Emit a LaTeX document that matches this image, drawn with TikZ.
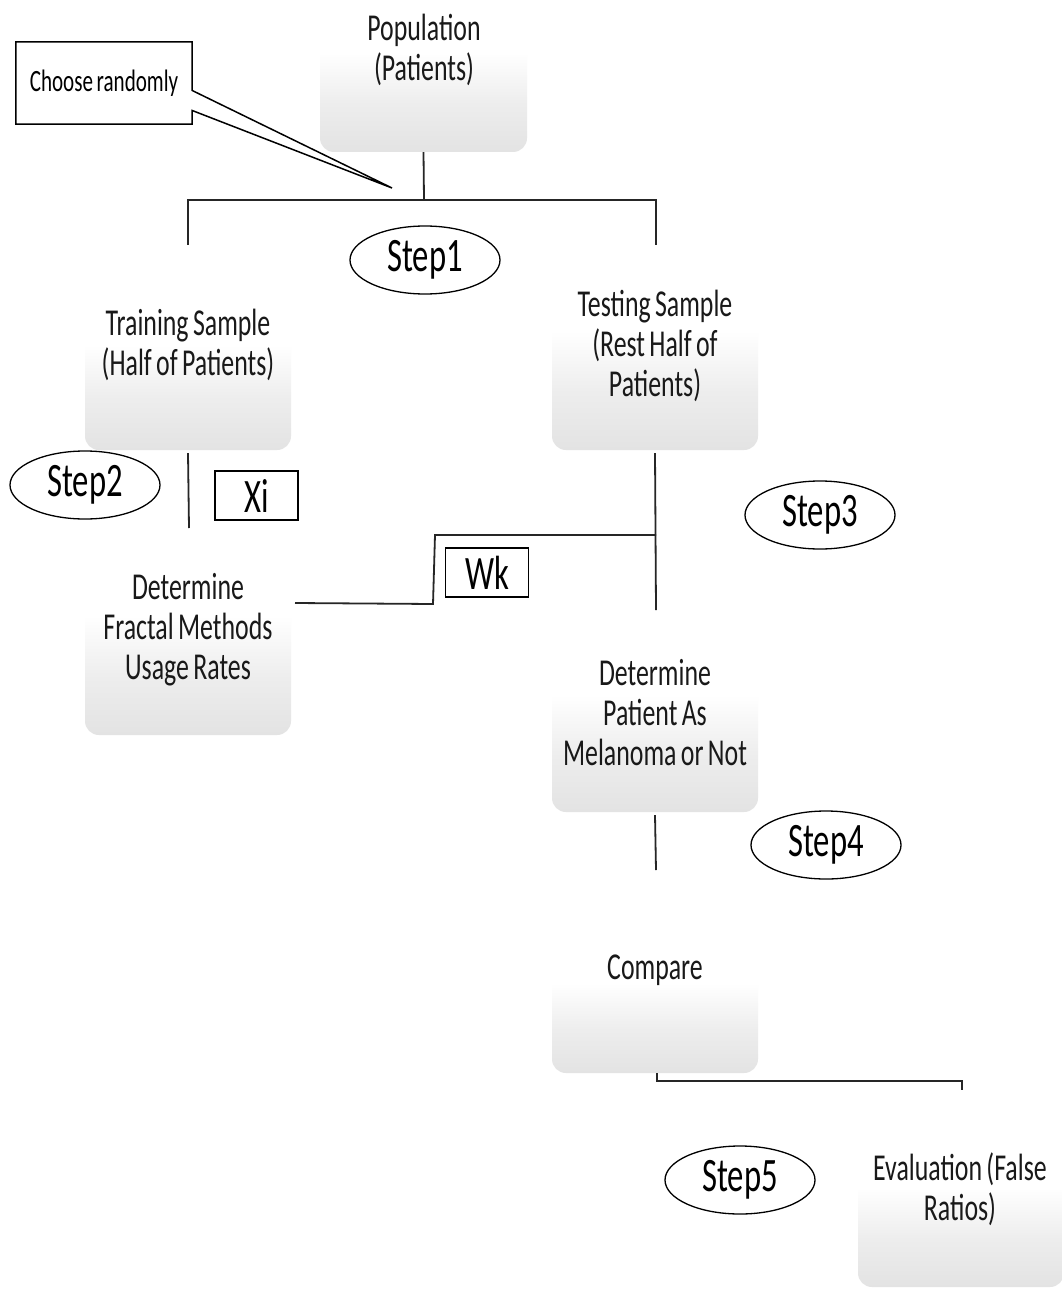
\documentclass[tikz,border=0pt]{standalone}
\usepackage{fontspec}
\setmainfont{Carlito}[FakeStretch=0.68, WordSpace=0.75]
\usetikzlibrary{shapes.geometric}
\pgfdeclareverticalshading{boxsh}{100bp}{color(0bp)=(black!11); color(25bp)=(black!11); color(42bp)=(black!7); color(60bp)=(white); color(100bp)=(white)}
\tikzset{
  gbox/.style={rectangle, rounded corners=14pt, draw=none, shading=boxsh, inner sep=0pt},
  btxt/.style={align=center, inner sep=0pt, text=black!90, font=\fontsize{38}{40}\selectfont},
  stepell/.style={ellipse, draw, line width=1.3pt, minimum width=150pt, minimum height=68pt, inner sep=0pt, font=\fontsize{48}{50}\selectfont},
  varbox/.style={rectangle, draw, line width=1.8pt, minimum width=83pt, minimum height=49pt, inner sep=0pt, font=\fontsize{48}{50}\selectfont},
  conn/.style={line width=1.8pt, draw=black!85}
}
\begin{document}
\begin{tikzpicture}[x=1pt,y=-1pt]
\useasboundingbox[fill=white] (0,0) rectangle (1061,1289);

% boxes
\node[gbox, minimum width=207pt, minimum height=142pt] (pop) at (423.5,81) {};
\node[gbox, minimum width=206pt, minimum height=150pt] (train) at (188,375) {};
\node[gbox, minimum width=206pt, minimum height=170pt] (test) at (655,365) {};
\node[gbox, minimum width=206pt, minimum height=170pt] (frac) at (188,650) {};
\node[gbox, minimum width=206pt, minimum height=167pt] (pat) at (655,728.5) {};
\node[gbox, minimum width=206pt, minimum height=128pt] (cmp) at (655,1009) {};
\node[gbox, minimum width=206pt, minimum height=142pt] (eval) at (961,1216) {};

% box texts
\node[btxt] (poptxt) at (424,50) {Population\\(Patients)};
\node[btxt] (traintxt) at (188,345) {Training Sample\\(Half of Patients)};
\node[btxt] (testtxt) at (655,346) {Testing Sample\\(Rest Half of\\Patients)};
\node[btxt] (fractxt) at (188,630) {Determine\\Fractal Methods\\Usage Rates};
\node[btxt] (pattxt) at (655,713) {Determine\\Patient As\\Melanoma or Not};
\node[btxt] (cmptxt) at (655,970) {Compare};
\node[btxt] (evaltxt) at (960,1189) {Evaluation (False\\Ratios)};

% step ellipses
\node[stepell] (s1) at (425,260) {Step1};
\node[stepell] (s2) at (85,485) {Step2};
\node[stepell] (s3) at (820,515) {Step3};
\node[stepell] (s4) at (826,845) {Step4};
\node[stepell] (s5) at (740,1180) {Step5};

% variable boxes
\node[varbox] (xi) at (256.5,495.5) {Xi};
\node[varbox] (wk) at (487,572.5) {Wk};

% callout
\node[minimum width=176pt, minimum height=79pt, inner sep=0pt, font=\fontsize{31}{32}\selectfont] (cr) at (104,83) {Choose randomly};
\coordinate (tip) at (392,188);
\draw[line width=1.5pt] ([yshift=1.5pt]cr.north west) -- ([yshift=1.5pt]cr.north east) -- ([yshift=-7.5pt]cr.east) -- (tip) -- ([yshift=-27.5pt]cr.east) -- ([yshift=-1.5pt]cr.south east) -- ([yshift=-1.5pt]cr.south west) -- cycle;

% connectors
\coordinate (j1) at (424,200);
\coordinate (tl) at (188,245);
\coordinate (tr) at (656,245);
\draw[conn] (pop.south) -- (j1);
\draw[conn] (tl) |- (j1) -| (tr);

\coordinate (a1) at (189,528);
\draw[conn] ([yshift=-3pt]train.south) -- (a1);

\coordinate (b1) at (656,610);
\draw[conn] ([yshift=-3pt]test.south) -- (b1);

\coordinate (c1) at (295,603);
\coordinate (c2) at (433,604);
\coordinate (c3) at (435,535);
\coordinate (c4) at (656,535);
\draw[conn] (c1) -- (c2) -- (c3) -- (c4);

\coordinate (d1) at (656,870);
\draw[conn] ([yshift=-3pt]pat.south) -- (d1);

\coordinate (e0) at (962,1081);
\coordinate (e1) at (962,1090);
\draw[conn] ([xshift=2pt]cmp.south) |- (e0) -- (e1);
\end{tikzpicture}
\end{document}
